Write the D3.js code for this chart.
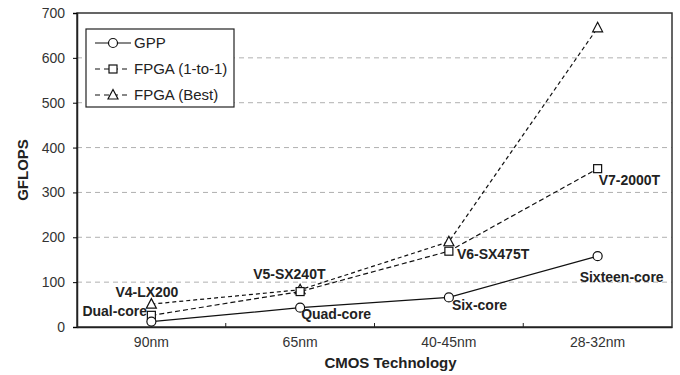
<!DOCTYPE html>
<html>
<head>
<meta charset="utf-8">
<script src="https://cdn.jsdelivr.net/npm/d3@7"></script>
<style>
  body { margin: 0; background: #fff; }
  svg { font-family: "Liberation Sans", Arial, sans-serif; }
</style>
</head>
<body>
<script>
// data
var categories = ["90nm", "65nm", "40-45nm", "28-32nm"];
var gpp = [12, 43, 66, 158];
var fpgaOne = [26, 79, 169, 353];
var fpgaBest = [51, 83, 190, 667];
var gppLabels = ["Dual-core", "Quad-core", "Six-core", "Sixteen-core"];
var fpgaLabels = ["V4-LX200", "V5-SX240T", "V6-SX475T", "V7-2000T"];
var yTicks = [0, 100, 200, 300, 400, 500, 600, 700];

var w = 680, h = 375;
var margin = {top: 13, right: 8, bottom: 48, left: 77};
var pw = w - margin.left - margin.right;
var ph = h - margin.top - margin.bottom;

var svg = d3.select("body").append("svg")
  .attr("width", w)
  .attr("height", h);

var g = svg.append("g")
  .attr("transform", `translate(${margin.left}, ${margin.top})`);

var xScale = d3.scaleBand()
  .domain(categories)
  .range([0, pw]);

var yScale = d3.scaleLinear()
  .domain([0, 700])
  .range([ph, 0]);

var xc = d => xScale(d) + xScale.bandwidth() / 2;

// gridlines
g.selectAll(".grid")
  .data(yTicks.filter(d => d > 0 && d < 700))
  .enter()
  .append("line")
  .attr("x1", 0)
  .attr("x2", pw)
  .attr("y1", d => yScale(d))
  .attr("y2", d => yScale(d))
  .attr("stroke", "#b0b0b0")
  .attr("stroke-width", 1)
  .attr("stroke-dasharray", "5,4");

// frame
g.append("rect")
  .attr("width", pw)
  .attr("height", ph)
  .attr("fill", "none")
  .attr("stroke", "#333")
  .attr("stroke-width", 1.5);

// y axis
var yAxis = g.append("g")
  .call(d3.axisLeft(yScale).tickValues(yTicks).tickSize(4).tickPadding(8));
yAxis.select(".domain").attr("stroke", "#222").attr("stroke-width", 1.5);
yAxis.selectAll("text").attr("font-size", 14).attr("fill", "#333")
  .attr("font-family", "Liberation Sans, Arial, sans-serif");

// x axis, ticks on band boundaries pointing inward
var xAxis = g.append("g")
  .attr("transform", `translate(0, ${ph})`)
  .call(d3.axisBottom(xScale).tickSize(0).tickPadding(10));
xAxis.select(".domain").attr("stroke", "#222").attr("stroke-width", 1.5);
xAxis.selectAll("text").attr("font-size", 14).attr("fill", "#333")
  .attr("font-family", "Liberation Sans, Arial, sans-serif");
g.selectAll(".xtick")
  .data(categories.slice(1))
  .enter()
  .append("line")
  .attr("x1", d => xScale(d))
  .attr("x2", d => xScale(d))
  .attr("y1", ph)
  .attr("y2", ph - 4)
  .attr("stroke", "#222");

// axis titles
svg.append("text")
  .attr("x", margin.left + pw / 2 + 16)
  .attr("y", 368)
  .attr("text-anchor", "middle")
  .attr("font-size", 15)
  .attr("font-weight", "bold")
  .attr("fill", "#222")
  .text("CMOS Technology");

svg.append("text")
  .attr("transform", `translate(28, ${margin.top + ph / 2}) rotate(-90)`)
  .attr("text-anchor", "middle")
  .attr("font-size", 15)
  .attr("font-weight", "bold")
  .attr("fill", "#222")
  .text("GFLOPS");

// series
var series = [
  {name: "GPP", values: gpp, dash: null, marker: "circle"},
  {name: "FPGA (1-to-1)", values: fpgaOne, dash: "5,3", marker: "square"},
  {name: "FPGA (Best)", values: fpgaBest, dash: "4,3", marker: "triangle"}
];

var line = d3.line()
  .x((d, i) => xc(categories[i]))
  .y(d => yScale(d));

function drawMarker(sel, type, x, y) {
  if (type === "circle") {
    sel.append("circle").attr("cx", x).attr("cy", y).attr("r", 4.5)
      .attr("fill", "#fff").attr("stroke", "#111").attr("stroke-width", 1.2);
  } else if (type === "square") {
    sel.append("rect").attr("x", x - 4).attr("y", y - 4).attr("width", 8).attr("height", 8)
      .attr("fill", "#fff").attr("stroke", "#111").attr("stroke-width", 1.2);
  } else {
    sel.append("path")
      .attr("d", `M${x},${y - 5.5}L${x + 5},${y + 4}L${x - 5},${y + 4}Z`)
      .attr("fill", "#fff").attr("stroke", "#111").attr("stroke-width", 1.2);
  }
}

series.slice().reverse().forEach(s => {
  g.append("path")
    .datum(s.values)
    .attr("d", line)
    .attr("fill", "none")
    .attr("stroke", "#111")
    .attr("stroke-width", 1.2)
    .attr("stroke-dasharray", s.dash);
  s.values.forEach((v, i) => drawMarker(g, s.marker, xc(categories[i]), yScale(v)));
});

// point labels
var gppOff = [[-69, -6], [1, 11], [3, 13], [-18, 26]];
var fpgaOff = [[-36, -7], [-47, -11], [8, 8], [1, 16]];
var lab = g.append("g")
  .attr("font-size", 14)
  .attr("font-weight", "bold")
  .attr("fill", "#222");
gppLabels.forEach((t, i) => {
  lab.append("text")
    .attr("x", xc(categories[i]) + gppOff[i][0])
    .attr("y", yScale(gpp[i]) + gppOff[i][1])
    .text(t);
});
fpgaLabels.forEach((t, i) => {
  var v = i >= 2 ? fpgaOne[i] : fpgaBest[i];
  lab.append("text")
    .attr("x", xc(categories[i]) + fpgaOff[i][0])
    .attr("y", yScale(v) + fpgaOff[i][1])
    .text(t);
});

// legend
var legend = svg.append("g").attr("transform", "translate(86, 29)");
legend.append("rect")
  .attr("width", 148)
  .attr("height", 78)
  .attr("fill", "#fff")
  .attr("stroke", "#222")
  .attr("stroke-width", 1.2);
series.forEach((s, i) => {
  var y = 14 + i * 26;
  legend.append("line")
    .attr("x1", 9).attr("x2", 45)
    .attr("y1", y).attr("y2", y)
    .attr("stroke", "#111")
    .attr("stroke-width", 1.2)
    .attr("stroke-dasharray", s.dash ? "5,4" : null);
  drawMarker(legend, s.marker, 27, y);
  legend.append("text")
    .attr("x", 48)
    .attr("y", y + 5)
    .attr("font-size", 15)
    .attr("fill", "#222")
    .text(s.name);
});
</script>
</body>
</html>
